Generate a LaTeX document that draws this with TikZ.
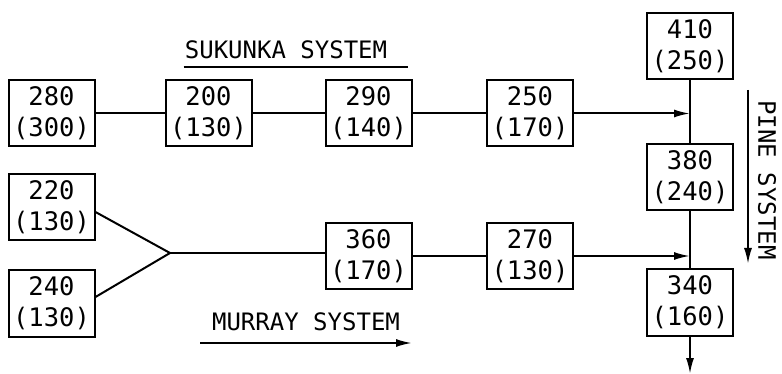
\documentclass[tikz,border=0pt]{standalone}
\usepackage{fontspec}
\newfontfamily\plotfont{DejaVu Sans Mono}
\usetikzlibrary{arrows.meta, positioning, calc}

\begin{document}
\begin{tikzpicture}[
		x=1pt, y=-1pt,
		flow/.style={draw, line width=2pt, minimum width=86pt, minimum height=66pt, inner sep=0pt, align=center, font=\fontsize{25.5}{31}\plotfont},
		pipe/.style={line width=2pt},
		arr/.style={line width=2pt, -{Latex[length=16pt, width=8pt]}},
		lbl/.style={font=\fontsize{24}{28}\plotfont, inner sep=1pt}
	]
		\useasboundingbox (0,0) rectangle (782,374);
		% sukunka row
		\node[flow] (s280) at (51.5,113.5) {280\\(300)};
		\node[flow] (s200) at (208.5,113.5) {200\\(130)};
		\node[flow] (s290) at (368.5,113.5) {290\\(140)};
		\node[flow] (s250) at (530,113.5) {250\\(170)};
		% murray row
		\node[flow] (m220) at (51.5,207.5) {220\\(130)};
		\node[flow] (m240) at (51.5,303.5) {240\\(130)};
		\node[flow] (m360) at (368.5,256) {360\\(170)};
		\node[flow] (m270) at (530,256) {270\\(130)};
		% pine column
		\node[flow] (p410) at (690,46) {410\\(250)};
		\node[flow] (p380) at (690,177.5) {380\\(240)};
		\node[flow] (p340) at (690,302.5) {340\\(160)};
		\coordinate (j1) at (p410.south |- s250.east);
		\coordinate (j2) at (p410.south |- m270.east);
		\coordinate (fork) at (170,253);
		\coordinate (out) at (690,374);
		\draw[pipe] (s280) -- (s200);
		\draw[pipe] (s200) -- (s290);
		\draw[pipe] (s290) -- (s250);
		\draw[arr] (s250) -- (j1);
		\draw[pipe] (m220.east |- 0,212) -- (fork) -- (m240.east |- 0,297);
		\draw[pipe] (fork) -- (m360.west |- fork);
		\draw[pipe] (m360) -- (m270);
		\draw[arr] (m270) -- (j2);
		\draw[pipe] (p410) -- (p380);
		\draw[pipe] (p380) -- (p340);
		\draw[arr] (p340) -- (out);
		% system labels
		\node[lbl] (sukunka) at (286,50) {SUKUNKA SYSTEM};
		\draw[pipe] ($(sukunka.south west)+(0,7)$) -- ($(sukunka.south east)+(20,7)$);
		\node[lbl] (murray) at (306,322) {MURRAY SYSTEM};
		\coordinate (mtail) at (200,343);
		\draw[arr] (mtail) -- (mtail -| 412,0);
		\node[lbl, rotate=-90] (pine) at (767,180) {PINE SYSTEM};
		\coordinate (ptail) at (748,90);
		\draw[arr] (ptail) -- (ptail |- 0,264);
	\end{tikzpicture}
\end{document}
